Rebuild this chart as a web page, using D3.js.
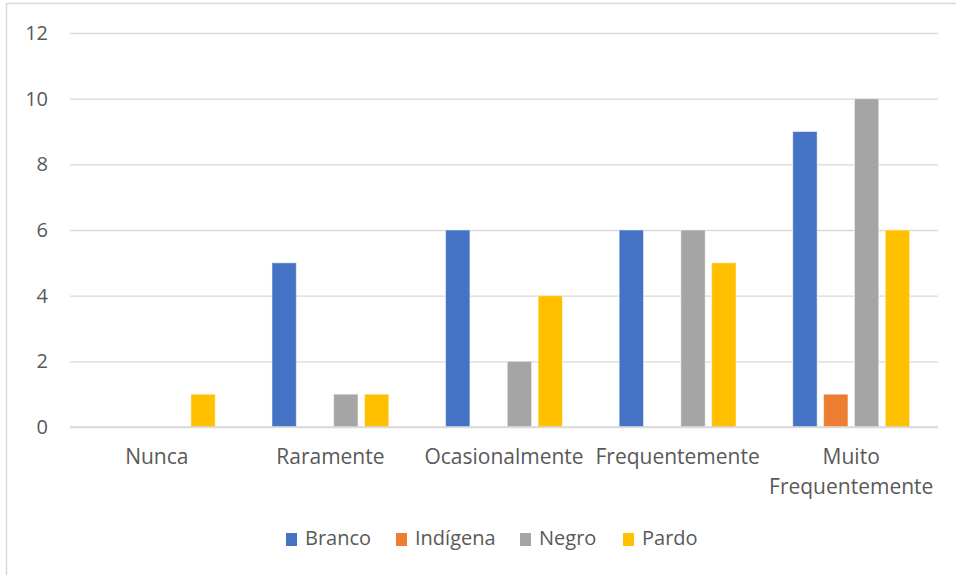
<!DOCTYPE html>
<html>
<head>
<meta charset="utf-8">
<script src="https://cdn.jsdelivr.net/npm/d3@7"></script>
<style>
  html, body { margin: 0; padding: 0; background: #fff; }
  svg { display: block; }
  text { font-family: "Open Sans", "Noto Sans", sans-serif; fill: #595959; }
</style>
</head>
<body>
<svg id="chart" width="956" height="575"></svg>
<script>
// Frequency categories (x axis) and the count for each group
const categories = ["Nunca", "Raramente", "Ocasionalmente", "Frequentemente", "Muito Frequentemente"];
const seriesNames = ["Branco", "Indígena", "Negro", "Pardo"];
const branco   = [0, 5, 6, 6, 9];
const indigena = [0, 0, 0, 0, 1];
const negro    = [0, 1, 2, 6, 10];
const pardo    = [1, 1, 4, 5, 6];
const yTicks   = [0, 2, 4, 6, 8, 10, 12];
const colors   = ["#4472C4", "#ED7D31", "#A5A5A5", "#FFC000"];

const seriesValues = [branco, indigena, negro, pardo];
const rows = categories.map((c, i) => ({
  category: c,
  values: seriesNames.map((s, j) => ({ series: s, value: seriesValues[j][i] }))
}));

const svg = d3.select("#chart");
const plot = { left: 70, right: 938, top: 33, bottom: 427 };

// Outer chart frame
svg.append("rect")
  .attr("x", 6.5).attr("y", 3.5)
  .attr("width", 1000).attr("height", 700)
  .attr("fill", "#fff").attr("stroke", "#d9d9d9").attr("stroke-width", 1.5);

const x = d3.scaleBand().domain(categories).range([plot.left, plot.right]).paddingInner(0).paddingOuter(0);
const xInner = d3.scaleBand().domain(seriesNames).range([0, x.bandwidth()]).paddingInner(0.21).paddingOuter(0.92);
const y = d3.scaleLinear().domain([0, 12]).range([plot.bottom, plot.top]);

// Gridlines and y labels
const yAxis = d3.axisLeft(y).tickValues(yTicks).tickSize(-(plot.right - plot.left)).tickPadding(22);
const gy = svg.append("g").attr("transform", `translate(${plot.left},0)`).call(yAxis);
gy.select(".domain").remove();
gy.selectAll(".tick line").attr("stroke", "#d9d9d9").attr("stroke-width", 1.3);
gy.selectAll(".tick text").attr("font-size", 20).style("font-family", '"Open Sans", sans-serif').attr("fill", "#595959");

// Bars
const groups = svg.append("g").selectAll("g").data(rows).join("g")
  .attr("transform", d => `translate(${x(d.category)},0)`);
groups.selectAll("rect").data(d => d.values.filter(v => v.value > 0)).join("rect")
  .attr("x", d => xInner(d.series))
  .attr("width", xInner.bandwidth())
  .attr("y", d => y(d.value))
  .attr("height", d => y(0) - y(d.value))
  .attr("fill", d => colors[seriesNames.indexOf(d.series)])
  .attr("stroke", "#ffffff").attr("stroke-opacity", 0.5).attr("stroke-width", 1);

// Baseline
svg.append("line")
  .attr("x1", plot.left).attr("x2", plot.right)
  .attr("y1", y(0)).attr("y2", y(0))
  .attr("stroke", "#d9d9d9").attr("stroke-width", 1.5);

// Category labels (long names wrap onto two lines)
const xAxis = d3.axisBottom(x).tickSize(0).tickPadding(0);
const gx = svg.append("g").attr("transform", `translate(0,${y(0)})`).call(xAxis);
gx.select(".domain").remove();
gx.selectAll(".tick text").each(function(d) {
  const t = d3.select(this);
  t.text(null).attr("font-size", 21).attr("fill", "#595959")
    .style("font-family", '"Open Sans", sans-serif').attr("dy", null).attr("y", 0);
  const lines = d === "Muito Frequentemente" ? ["Muito", "Frequentemente"] : [d];
  lines.forEach((ln, i) => {
    t.append("tspan").attr("x", 0).attr("y", 37 + i * 30).text(ln);
  });
});

// Legend
const legendItems = [
  { name: "Branco", x: 286 },
  { name: "Indígena", x: 396 },
  { name: "Negro", x: 520 },
  { name: "Pardo", x: 623 }
];
const lg = svg.append("g");
legendItems.forEach((it, i) => {
  lg.append("rect").attr("x", it.x).attr("y", 533).attr("width", 11).attr("height", 13).attr("fill", colors[i]);
  lg.append("text").attr("x", it.x + 19).attr("y", 545).attr("font-size", 20).text(it.name);
});
</script>
</body>
</html>
